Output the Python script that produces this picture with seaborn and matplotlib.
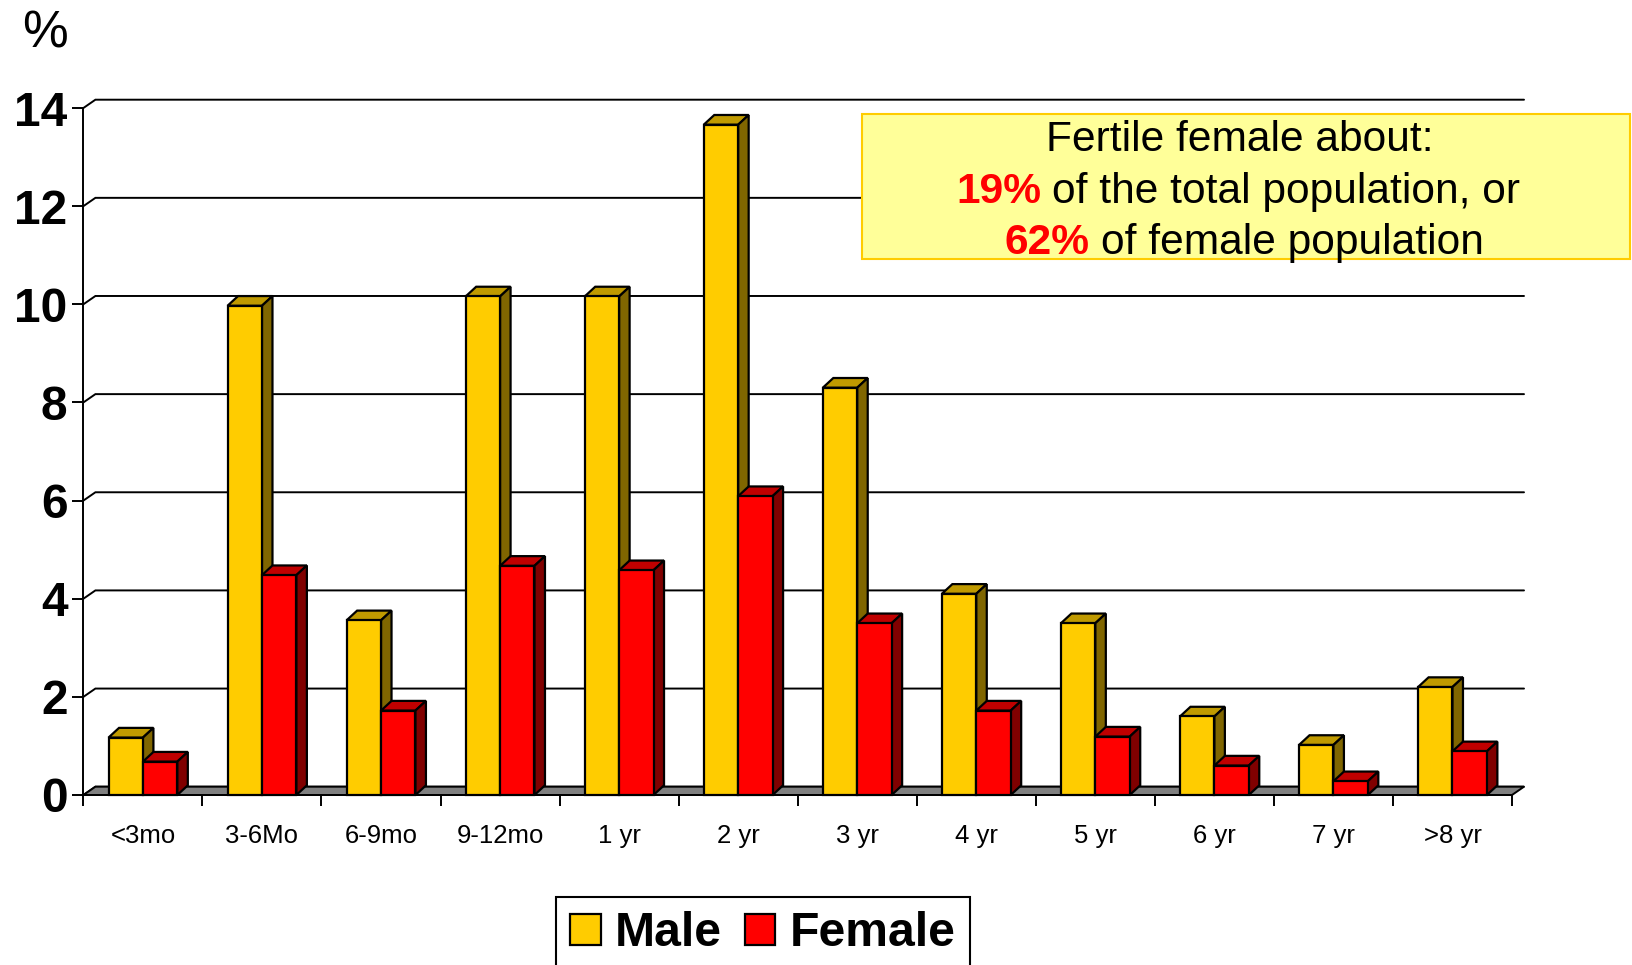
import numpy as np
import pandas as pd
import matplotlib
matplotlib.use("Agg")
import matplotlib.pyplot as plt
from matplotlib.patches import Polygon, Rectangle
import seaborn as sns

categories = ["<3mo", "3-6Mo", "6-9mo", "9-12mo", "1 yr", "2 yr",
              "3 yr", "4 yr", "5 yr", "6 yr", "7 yr", ">8 yr"]
male = [1.17, 9.97, 3.56, 10.16, 10.16, 13.66, 8.3, 4.1, 3.5, 1.6, 1.02, 2.2]
female = [0.68, 4.48, 1.72, 4.67, 4.58, 6.09, 3.5, 1.72, 1.19, 0.6, 0.28, 0.89]
y_ticks = [0, 2, 4, 6, 8, 10, 12, 14]

W, H = 1633, 965

# colours: front, top, side
yellow = ("#FFCC00", "#C09A00", "#806600")
red = ("#FF0000", "#C00000", "#800000")

sns.set_theme(style="white", rc={"text.color": "black", "xtick.color": "black",
                                 "ytick.color": "black"})
plt.rcParams["font.family"] = ["Liberation Sans", "DejaVu Sans"]

df = pd.DataFrame({
    "age": categories * 2,
    "pct": male + female,
    "sex": ["Male"] * len(male) + ["Female"] * len(female),
})

fig = plt.figure(figsize=(W / 100, H / 100), dpi=100)
ax = fig.add_axes([83.4 / W, 1 - 795 / H, (1512 - 83.4) / W, (795 - 108) / H])

sns.barplot(data=df, x="age", y="pct", hue="sex", ax=ax, order=categories,
            palette={"Male": yellow[0], "Female": red[0]}, saturation=1,
            width=0.578, edgecolor="black", linewidth=1.6)

ax.set_xlim(-0.5, 11.5)
ax.set_ylim(0, 14)
ax.set_xlabel("")
ax.set_ylabel("")

# depth of the fake 3D box, in data units
dx = 12 / 119.05
dy = 8.3 / 49.07
bar_dx = 10.5 / 119.05
bar_dy = 9.7 / 49.07

# back wall grid and floor
for v in y_ticks:
    ax.plot([-0.5, -0.5 + dx, 11.5 + dx], [v, v + dy, v + dy],
            color="black", lw=1.4, clip_on=False, zorder=1, solid_joinstyle="miter")
ax.add_patch(Polygon([(-0.5, 0), (-0.5 + dx, dy), (11.5 + dx, dy), (11.5, 0)],
                     facecolor="#808080", edgecolor="black", lw=1.4,
                     clip_on=False, zorder=1.5))

# top and side faces from the bars seaborn drew
for i, (container, cols) in enumerate(zip(ax.containers, (yellow, red))):
    for bar in container:
        x0 = bar.get_x()
        x1 = x0 + bar.get_width()
        h = bar.get_height()
        bar.set_zorder(3 + i + 0.5)
        bar.set_clip_on(False)
        ax.add_patch(Polygon([(x0, h), (x0 + bar_dx, h + bar_dy), (x1 + bar_dx, h + bar_dy), (x1, h)],
                             facecolor=cols[1], edgecolor="black", lw=1.6,
                             clip_on=False, zorder=3 + i))
        ax.add_patch(Polygon([(x1, 0), (x1 + bar_dx, bar_dy), (x1 + bar_dx, h + bar_dy), (x1, h)],
                             facecolor=cols[2], edgecolor="black", lw=1.6,
                             clip_on=False, zorder=3 + i))

# axes
for s in ("top", "right"):
    ax.spines[s].set_visible(False)
for s in ("left", "bottom"):
    ax.spines[s].set_color("black")
    ax.spines[s].set_linewidth(1.4)
    ax.spines[s].set_zorder(6)

ax.set_yticks(y_ticks)
ax.set_yticklabels([str(v) for v in y_ticks], fontsize=34.5, fontweight="bold")
ax.tick_params(axis="y", left=True, length=8, width=1.4, pad=3.5, color="black")

ax.set_xticks(np.arange(-0.5, 12), labels=[""] * 13)
ax.set_xticks(range(12), labels=categories, minor=True, fontsize=18.5)
ax.tick_params(axis="x", which="major", bottom=True, length=7.6, width=1.4, color="black")
ax.tick_params(axis="x", which="minor", bottom=False, length=0, pad=21)

fig.text(22 / W, 1 - 47 / H, "%", fontsize=37, ha="left", va="baseline")

# legend, cut off by the lower edge like the original
sns.move_legend(ax, loc="center", bbox_to_anchor=(763 / W, 1 - 934 / H),
                bbox_transform=fig.transFigure, ncol=2, title=None, frameon=True,
                fancybox=False, edgecolor="black", framealpha=1,
                prop={"size": 34.7, "weight": "bold"}, handlelength=0.63,
                handleheight=0.63, handletextpad=0.3, columnspacing=0.48,
                borderpad=0.3)
ax.get_legend().get_frame().set_linewidth(1.5)
ax.get_legend().set_zorder(10)

# note box
fig.add_artist(Rectangle((862 / W, 1 - 259 / H), (1630 - 862) / W, (259 - 114) / H,
                         transform=fig.transFigure, facecolor="#FFFF99",
                         edgecolor="#FFCC00", lw=1.5, zorder=8))
note_size = 30.6
fig.text(1240 / W, 1 - 151 / H, "Fertile female about:", fontsize=note_size,
         ha="center", va="baseline", zorder=9)
fig.text(956 / W, 1 - 203 / H, "19%", fontsize=note_size, fontweight="bold",
         color="#FF0000", va="baseline", zorder=9)
fig.text(1052 / W, 1 - 203 / H, "of the total population, or", fontsize=note_size,
         va="baseline", zorder=9)
fig.text(1005 / W, 1 - 254 / H, "62%", fontsize=note_size, fontweight="bold",
         color="#FF0000", va="baseline", zorder=9)
fig.text(1101 / W, 1 - 254 / H, "of female population", fontsize=note_size,
         va="baseline", zorder=9)

fig.savefig("out.png", dpi=100)
